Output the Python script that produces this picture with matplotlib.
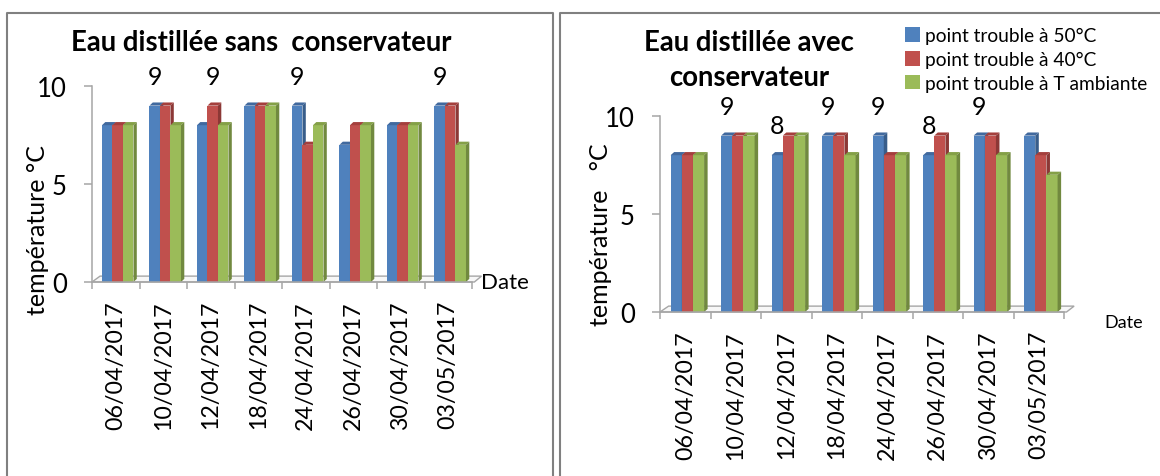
import numpy as np
import matplotlib
matplotlib.use("Agg")
import matplotlib.pyplot as plt
from matplotlib.patches import Polygon
from matplotlib.lines import Line2D

plt.rcParams['font.family'] = ['Lato', 'DejaVu Sans']

dates = ["06/04/2017", "10/04/2017", "12/04/2017", "18/04/2017",
         "24/04/2017", "26/04/2017", "30/04/2017", "03/05/2017"]
series_names = ["point trouble à 50°C", "point trouble à 40°C", "point trouble à T ambiante"]

# eau distillée sans conservateur
sans_50 = [8, 9, 8, 9, 9, 7, 8, 9]
sans_40 = [8, 9, 9, 9, 7, 8, 8, 9]
sans_amb = [8, 8, 8, 9, 8, 8, 8, 7]
# (category index, series index) of the values written above the bars
sans_labels = [(1, 0), (2, 1), (4, 0), (7, 0)]

# eau distillée avec conservateur
avec_50 = [8, 9, 8, 9, 9, 8, 9, 9]
avec_40 = [8, 9, 9, 9, 8, 9, 9, 8]
avec_amb = [8, 9, 9, 8, 8, 8, 8, 7]
avec_labels = [(1, 0), (2, 0), (3, 0), (4, 0), (5, 0), (6, 0)]

colors = ["#4F81BD", "#C0504D", "#9BBB59"]
sides = ["#385D8A", "#8C3836", "#71893F"]
tops = ["#41699E", "#A43F3C", "#84A047"]
grey = "#A6A6A6"

W, H = 1160, 477


def px(x, y):
    return x / W, 1 - y / H


def bars3d(ax, values, dx=0.07, dy=0.16):
    x = np.arange(len(dates))
    w = 0.221
    # floor of the chart
    floor = Polygon([(0, 0), (8.05, 0), (8.2, 0.3), (0.17, 0.3)], closed=True,
                    facecolor="#F7F7F7", edgecolor=grey, lw=1.0, clip_on=False, zorder=1)
    ax.add_patch(floor)
    handles = []
    for k, vals in enumerate(values):
        left = x + 0.21 + k * w
        b = ax.bar(left, vals, w, align="edge", color=colors[k], lw=0,
                   label=series_names[k], zorder=2, clip_on=False)
        handles.append(b)
        for xl, v in zip(left, vals):
            ax.add_patch(Polygon([(xl, v), (xl + w, v), (xl + w + dx, v + dy), (xl + dx, v + dy)],
                                 closed=True, facecolor=tops[k], lw=0, zorder=2, clip_on=False))
            ax.add_patch(Polygon([(xl + w, 0), (xl + w, v), (xl + w + dx, v + dy), (xl + w + dx, dy)],
                                 closed=True, facecolor=sides[k], lw=0, zorder=2, clip_on=False))
    return handles


def style(ax):
    ax.set_xlim(0, 8)
    ax.set_ylim(0, 10)
    ax.set_yticks([0, 5, 10])
    ax.set_xticks(np.arange(len(dates)) + 0.5)
    ax.set_xticklabels(dates, rotation=90, fontsize=16.7)
    ax.set_xticks(np.arange(0, 9), minor=True)
    ax.tick_params(axis="x", which="major", length=0, pad=13)
    ax.tick_params(axis="x", which="minor", length=5, width=1.1, color=grey, direction="out")
    ax.tick_params(axis="y", length=6, width=1.1, color=grey, pad=12, labelsize=18.5)
    for s in ["top", "right"]:
        ax.spines[s].set_visible(False)
    for s in ["left", "bottom"]:
        ax.spines[s].set_color(grey)
        ax.spines[s].set_linewidth(1.1)


fig = plt.figure(figsize=(W / 100, H / 100), dpi=100)

# panel frames
for xs, ys in [([7, 7, 553, 553], [477, 14, 14, 477]), ([560, 560, 1160], [477, 14, 14])]:
    fx = [px(a, 0)[0] for a in xs]
    fy = [px(0, b)[1] for b in ys]
    fig.add_artist(Line2D(fx, fy, color="#808080", lw=1.5))

# left chart
ax1 = fig.add_axes([92 / W, 1 - 283 / H, 380 / W, 196 / H])
bars3d(ax1, [sans_50, sans_40, sans_amb])
style(ax1)
data1 = [sans_50, sans_40, sans_amb]
for i, k in sans_labels:
    ax1.text(i + 0.21 + k * 0.221 + 0.11, data1[k][i] + 1.5, str(data1[k][i]),
             ha="center", va="center", fontsize=18, clip_on=False)
fig.text(*px(261, 43), "Eau distillée sans  conservateur", ha="center", va="center",
         fontsize=19.8, fontweight="bold")
fig.text(*px(38, 230), "température °C", rotation=90, ha="center", va="center", fontsize=18)
fig.text(*px(481, 283), "Date", ha="left", va="center", fontsize=16)

# right chart
ax2 = fig.add_axes([660 / W, 1 - 313 / H, 404 / W, 196 / H])
handles = bars3d(ax2, [avec_50, avec_40, avec_amb])
style(ax2)
data2 = [avec_50, avec_40, avec_amb]
for i, k in avec_labels:
    ax2.text(i + 0.21 + k * 0.221 + 0.11, data2[k][i] + 1.5, str(data2[k][i]),
             ha="center", va="center", fontsize=18, clip_on=False)
fig.text(*px(749, 43), "Eau distillée avec", ha="center", va="center",
         fontsize=19.8, fontweight="bold")
fig.text(*px(749, 78), "conservateur", ha="center", va="center",
         fontsize=19.8, fontweight="bold")
fig.text(*px(601, 235), "température   °C", rotation=90, ha="center", va="center", fontsize=18)
fig.text(*px(1104, 323), "Date", ha="left", va="center", fontsize=13)

fig.legend(handles=handles, loc="upper left", bbox_to_anchor=px(905, 28), frameon=False,
           fontsize=13.8, borderpad=0, borderaxespad=0, handlelength=0.8, handleheight=0.8,
           handletextpad=0.25, labelspacing=0.35)

fig.savefig("out.png", dpi=100)
